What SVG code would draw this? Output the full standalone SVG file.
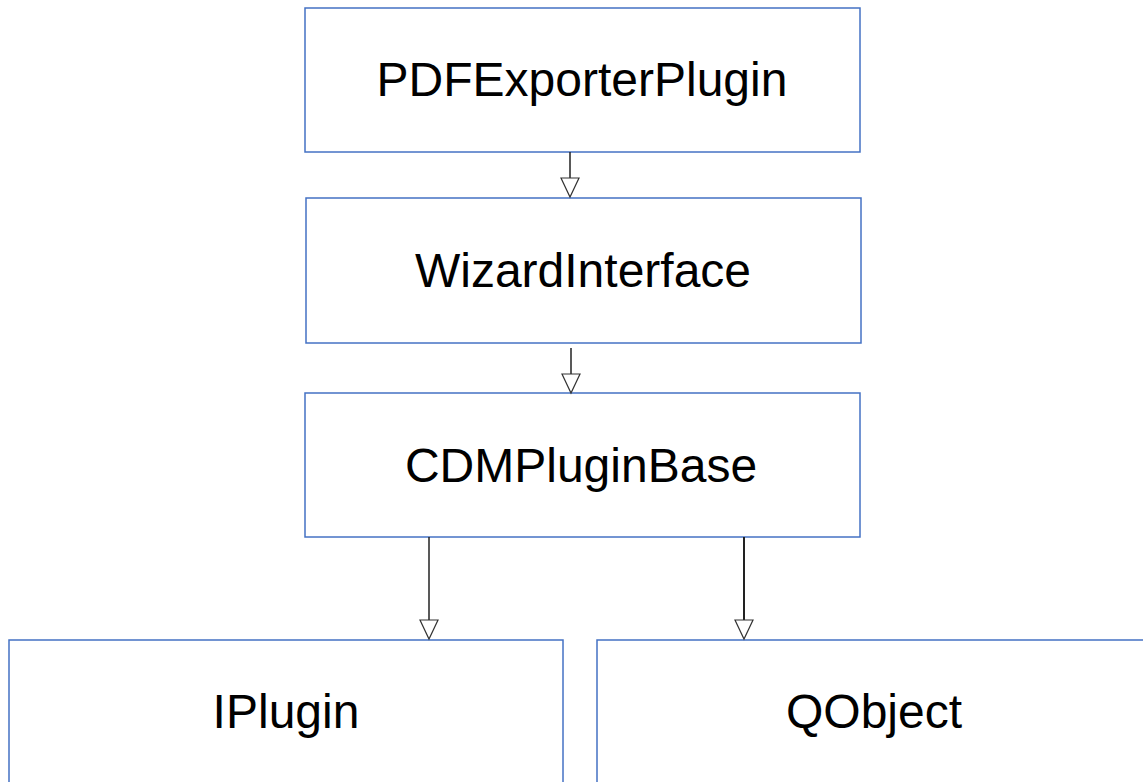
<svg xmlns="http://www.w3.org/2000/svg" width="1143" height="782" viewBox="0 0 1143 782">
<style>
.box{fill:#fff;stroke:#4472c4;stroke-width:1.5}
.lbl{font-family:"Liberation Sans",Arial,sans-serif;font-size:48px;fill:#000;text-anchor:middle}
.edge{stroke:#222;stroke-width:1.5;fill:none}
.head{fill:#fff;stroke:#333;stroke-width:1.2}
</style>
<rect width="1143" height="782" fill="#fff"/>
<g id="PDFExporterPlugin"><rect class="box" x="305" y="8" width="555" height="144"/><text class="lbl" x="582" y="96">PDFExporterPlugin</text></g>
<g id="WizardInterface"><rect class="box" x="306" y="198" width="555" height="145"/><text class="lbl" x="583" y="287">WizardInterface</text></g>
<g id="CDMPluginBase"><rect class="box" x="305" y="393" width="555" height="144"/><text class="lbl" x="581" y="482">CDMPluginBase</text></g>
<g id="IPlugin"><rect class="box" x="9" y="640" width="554" height="160"/><text class="lbl" x="286" y="728">IPlugin</text></g>
<g id="QObject"><rect class="box" x="597" y="640" width="560" height="160"/><text class="lbl" x="874" y="728">QObject</text></g>
<g id="connectors">
<line class="edge" x1="570" y1="152" x2="570" y2="178"/><path class="head" d="M561,178 L579,178 L570,197 Z"/>
<line class="edge" x1="571" y1="348" x2="571" y2="374"/><path class="head" d="M562,374 L580,374 L571,393 Z"/>
<line class="edge" x1="429" y1="537" x2="429" y2="620"/><path class="head" d="M420,620 L438,620 L429,639 Z"/>
<line class="edge" x1="744" y1="537" x2="744" y2="620" style="stroke-width:2"/><path class="head" d="M735,620 L753,620 L744,639 Z"/>
</g>
</svg>
